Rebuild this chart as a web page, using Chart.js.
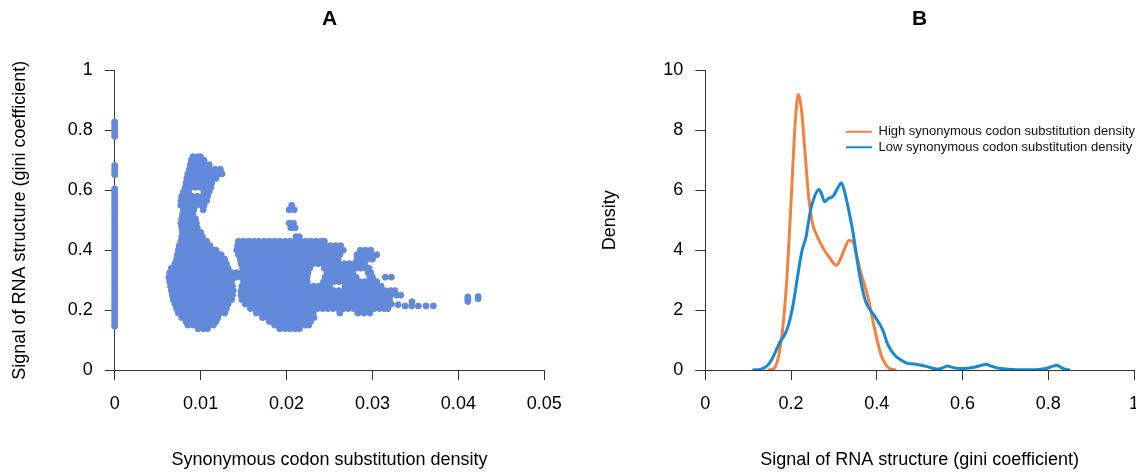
<!DOCTYPE html>
<html><head><meta charset="utf-8">
<script src="https://cdn.jsdelivr.net/npm/chart.js@4.4.1/dist/chart.umd.min.js"></script>
<style>
html,body{margin:0;padding:0;background:#fff;overflow:hidden;width:1136px;height:472px;}
#wrap{position:relative;width:1136px;height:472px;overflow:hidden;background:#fff;}
canvas{position:absolute;top:0;}
#cA{left:0;} #cB{left:568px;}
</style></head><body>
<div id="wrap"><canvas id="cA" width="576" height="472"></canvas><canvas id="cB" width="586" height="472"></canvas></div>
<script>
// ---------- Panel A: tick values / labels ----------
const xTicksA = [0, 0.01, 0.02, 0.03, 0.04, 0.05];
const xTickLabelsA = ['0', '0.01', '0.02', '0.03', '0.04', '0.05'];
const yTicksA = [0, 0.2, 0.4, 0.6, 0.8, 1];
const yTickLabelsA = ['0', '0.2', '0.4', '0.6', '0.8', '1'];

// ---------- Panel B: tick values / labels ----------
const xTicksB = [0, 0.2, 0.4, 0.6, 0.8, 1];
const xTickLabelsB = ['0', '0.2', '0.4', '0.6', '0.8', '1'];
const yTicksB = [0, 2, 4, 6, 8, 10];
const yTickLabelsB = ['0', '2', '4', '6', '8', '10'];

// ---------- Panel A data ----------
// genes with zero synonymous substitution density (gini values)
const zeroGini = [0.146,0.155,0.165,0.175,0.185,0.195,0.205,0.215,0.225,0.235,0.245,0.255,0.265,0.275,0.285,0.295,
  0.305,0.315,0.325,0.335,0.345,0.355,0.365,0.375,0.385,0.395,0.405,0.415,0.425,0.435,0.445,0.455,0.465,0.475,0.485,
  0.495,0.505,0.515,0.525,0.535,0.545,0.555,0.565,0.575,0.585,0.595,0.605,
  0.652,0.662,0.672,0.683,
  0.78,0.79,0.80,0.81,0.82,0.828];

// dense clouds read row by row: gini value of each row, and substitution densities (x 1e-4) in it
const SYN_UNIT = 1e-4;
const rowGini = [0.138,0.15,0.162,0.175,0.19,0.205,0.22,0.235,0.25,0.265,0.28,0.295,0.31,0.325,0.34,0.355,0.37,0.385,0.40,0.415,
  0.43,0.445,0.46,0.475,0.49,0.505,0.52,0.535,0.55,0.565,0.58,0.595,0.61,0.625,0.64,0.655,0.67,0.685,0.70,0.712];
const rowSyn = [
  [97,103,108,192,198,204,210,215],
  [85,91,97,103,109,115,186,192,198,204,210,216,222,226],
  [83,89,95,101,107,113,118,180,186,192,198,204,210,216,222,228],
  [78,84,90,96,102,108,114,120,172,178,184,190,196,202,208,214,220,226,232],
  [74,80,86,92,98,104,110,116,122,128,165,171,177,183,189,195,201,207,213,219,225,231,262,283,290,297],
  [72,78,84,90,96,102,108,114,120,126,130,158,164,170,176,182,188,194,200,206,212,218,224,230,236,242,248,254,260,266,272,278,284,290,296,302,308,314,318],
  [70,76,82,88,94,100,106,112,118,124,130,132,152,158,164,170,176,182,188,194,200,206,212,218,224,230,236,242,248,254,260,266,272,278,284,290,296,302,308,314,320,322],
  [68,74,80,86,92,98,104,110,116,122,128,134,136,148,154,160,166,172,178,184,190,196,202,208,214,220,226,232,238,244,250,256,262,268,274,280,286,292,298,304,310,316,320],
  [67,73,79,85,91,97,103,109,115,121,127,133,137,147,153,159,165,171,177,183,189,195,201,207,213,219,225,231,237,243,249,255,261,267,273,279,285,291,297,303,309,315,321,328,333],
  [66,72,78,84,90,96,102,108,114,120,126,132,138,147,153,159,165,171,177,183,189,195,201,207,213,219,225,231,237,243,249,255,261,267,273,279,285,291,297,303,309,315,321,326],
  [65,71,77,83,89,95,101,107,113,119,125,131,137,148,154,160,166,172,178,184,190,196,202,208,214,220,226,232,238,244,250,268,274,280,286,292,298,304,310],
  [64,70,76,82,88,94,100,106,112,118,124,130,136,150,156,162,168,174,180,186,192,198,204,210,216,222,224,243,249,255,261,267,273,279,285,291,297,303,305],
  [63,69,75,81,87,93,99,105,111,117,123,129,135,141,147,150,156,162,168,174,180,186,192,198,204,210,216,222,224,245,251,257,263,269,275,281,297,300,315,322],
  [64,70,76,82,88,94,100,106,112,118,124,130,136,142,148,150,156,162,168,174,180,186,192,198,204,210,216,222,225,247,253,259,265,271,277,295,298],
  [66,72,78,84,90,96,102,108,114,120,126,132,149,155,161,167,173,179,185,191,197,203,209,215,221,227,244,250,256,262,268,274,280,286,292,296],
  [70,76,82,88,94,100,106,112,118,124,130,147,153,159,165,171,177,183,189,195,201,207,213,219,225,231,237,243,249,255,261,267,273,279,285,291],
  [72,78,84,90,96,102,108,114,120,126,128,146,152,158,164,170,176,182,188,194,200,206,212,218,224,230,236,242,248,254,260,282,288,294,300],
  [73,79,85,91,97,103,109,115,121,124,144,150,156,162,168,174,180,186,192,198,204,210,216,222,228,234,240,246,252,258,262,282,288,294,300,305],
  [74,80,86,92,98,104,110,116,118,142,148,154,160,166,172,178,184,190,196,202,208,214,220,226,232,238,244,250,256,262,266,286,292,298],
  [75,81,87,93,99,105,111,143,149,155,161,167,173,179,185,191,197,203,209,215,221,227,233,239,245,251,257,263],
  [77,83,89,95,101,107,144,150,156,162,168,174,180,186,192,198,204,210,216,222,228,234,240,244],
  [78,84,90,96,102,211,215],
  [79,85,91,97,100],
  [78,84,90,96,205,210],
  [77,83,89,95,203,208],
  [78,84,90,94],
  [79,85,91],
  [80,86,92,103,203,209],
  [77,83,89,95,101,104,206],
  [77,83,89,95,101,107],
  [78,84,90,96,102,108],
  [80,86,104,110],
  [82,88,94,100,106,112],
  [83,89,95,101,107,113],
  [84,90,96,102,108,114,118],
  [85,91,97,103,109,115,121,125],
  [87,93,99,105,111,117,123],
  [88,94,100,106,110],
  [89,95,101,104],
  [91,97,100]
];
// isolated points on the right
const sparseSyn  = [0.0330,0.0338,0.03457,0.03534,0.03623,0.03708,0.0346,0.0411,0.0411,0.0411,0.0423,0.0423];
const sparseGini = [0.218,0.214,0.214,0.214,0.214,0.214,0.228,0.229,0.236,0.244,0.238,0.245];

// ---------- Panel B data (density curves) ----------
const highGini = [0.145,0.16,0.17,0.18,0.19,0.20,0.21,0.217,0.225,0.233,0.241,0.25,0.26,0.27,0.28,0.29,0.30,0.306,
  0.315,0.325,0.335,0.343,0.352,0.36,0.37,0.38,0.39,0.40,0.41,0.42,0.43,0.445];
const highDensity = [0,0.05,0.4,1.3,3.0,5.6,8.3,9.2,8.6,7.2,5.8,4.9,4.5,4.2,3.95,3.75,3.55,3.5,
  3.7,4.05,4.32,4.3,3.9,3.4,2.9,2.4,1.7,1.05,0.5,0.2,0.05,0];
const lowGini = [0.11,0.13,0.145,0.155,0.165,0.175,0.185,0.195,0.205,0.215,0.225,0.235,0.245,0.255,0.265,0.272,0.278,
  0.287,0.298,0.31,0.317,0.325,0.335,0.345,0.355,0.365,0.375,0.385,0.395,0.405,0.415,0.425,0.435,0.445,0.458,0.472,
  0.485,0.5,0.515,0.53,0.545,0.555,0.565,0.578,0.595,0.61,0.63,0.645,0.655,0.665,0.68,0.70,0.73,0.77,0.795,0.81,
  0.82,0.83,0.84,0.851];
const lowDensity = [0,0.03,0.15,0.35,0.65,0.95,1.17,1.55,2.2,3.1,3.95,4.45,5.3,5.8,6.03,5.85,5.62,
  5.73,5.8,6.1,6.25,5.95,5.3,4.56,3.6,2.8,2.25,2.0,1.8,1.57,1.3,0.87,0.62,0.45,0.32,0.22,
  0.2,0.17,0.12,0.06,0.03,0.08,0.13,0.08,0.05,0.06,0.1,0.16,0.19,0.14,0.07,0.03,0.01,0.01,0.05,0.12,
  0.16,0.08,0.02,0];

// ---------- styling ----------
const SCATTER_COLOR = '#6389DB';
const HIGH_COLOR = '#F4813F';
const LOW_COLOR = '#1789D3';
Chart.defaults.font.family = "'Liberation Sans', Arial, Helvetica, sans-serif";
Chart.defaults.color = '#000';

function rAxis(cfg) {
  return {
    type: 'linear', min: cfg.min, max: cfg.max,
    afterBuildTicks: s => { s.ticks = cfg.ticks.map(v => ({value: v})); },
    ticks: { callback: (v, i) => cfg.labels[i], autoSkip: false, maxRotation: 0, minRotation: 0,
             padding: cfg.pad, color: '#000', font: {size: 18} },
    grid: { display: true, drawOnChartArea: false, drawTicks: true, tickLength: 10, color: '#333', lineWidth: 1 },
    border: { display: true, color: '#333', width: 1 },
    title: { display: true, text: cfg.title, color: '#000', font: {size: 18}, padding: cfg.titlePad },
    afterFit: cfg.fit
  };
}

// ---------- Panel A ----------
const scatterPoints = [];
zeroGini.forEach(g => scatterPoints.push({x: 0, y: g}));
rowGini.forEach((g, i) => rowSyn[i].forEach(s => scatterPoints.push({x: s * SYN_UNIT, y: g})));
sparseSyn.forEach((s, i) => scatterPoints.push({x: s, y: sparseGini[i]}));

new Chart(document.getElementById('cA'), {
  type: 'scatter',
  data: { datasets: [{ data: scatterPoints, backgroundColor: SCATTER_COLOR, borderColor: SCATTER_COLOR,
    pointRadius: 3, pointBorderWidth: 1, pointHoverRadius: 3, clip: false }] },
  options: {
    responsive: false, animation: false, events: [],
    layout: { padding: { left: 0, right: 31.7, top: 0, bottom: 0 } },
    plugins: {
      legend: { display: false }, tooltip: { enabled: false },
      title: { display: true, text: 'A', fullSize: false, color: '#000',
               font: { size: 21, weight: 'bold' }, padding: { top: 6.9, bottom: 38.4 } }
    },
    scales: {
      x: rAxis({ min: 0, max: 0.05, ticks: xTicksA, labels: xTickLabelsA, pad: 13,
                 title: 'Synonymous codon substitution density', titlePad: {top: 0, bottom: 1.5},
                 fit: s => { s.height = 102; } }),
      y: rAxis({ min: 0, max: 1, ticks: yTicksA, labels: yTickLabelsA, pad: 12,
                 title: 'Signal of RNA structure (gini coefficient)', titlePad: {top: 9.5, bottom: 0},
                 fit: s => { s.width = 114.7; } })
    }
  }
});

// ---------- Panel B ----------
const legendSpot = {
  id: 'legendSpot',
  beforeDraw(chart) {
    const lg = chart.legend; if (!lg) return;
    const pad = lg.options.labels.padding;
    lg.left = 278 - pad; lg.top = 125.2 - pad;
    lg.width = 300; lg.height = 60;
    lg.right = lg.left + lg.width; lg.bottom = lg.top + lg.height;
  }
};

new Chart(document.getElementById('cB'), {
  type: 'line',
  data: { datasets: [
    { label: 'High synonymous codon substitution density', data: highGini.map((g, i) => ({x: g, y: highDensity[i]})),
      borderColor: HIGH_COLOR, backgroundColor: HIGH_COLOR, borderWidth: 3, pointRadius: 0, fill: false,
      cubicInterpolationMode: 'monotone', order: 1 },
    { label: 'Low synonymous codon substitution density', data: lowGini.map((g, i) => ({x: g, y: lowDensity[i]})),
      borderColor: LOW_COLOR, backgroundColor: LOW_COLOR, borderWidth: 3, pointRadius: 0, fill: false,
      cubicInterpolationMode: 'monotone', order: 0 }
  ] },
  options: {
    responsive: false, animation: false, events: [],
    layout: { padding: { left: 0, right: 20, top: 0, bottom: 0 } },
    plugins: {
      tooltip: { enabled: false },
      title: { display: true, text: 'B', fullSize: false, color: '#000',
               font: { size: 21, weight: 'bold' }, padding: { top: 6.9, bottom: 38.4 } },
      legend: { display: true, position: 'chartArea', align: 'start',
        labels: { usePointStyle: true, pointStyle: 'line', pointStyleWidth: 26, padding: 2.6,
          color: '#111', font: { size: 13 },
          sort: (a, b) => a.datasetIndex - b.datasetIndex,
          generateLabels: (chart) => Chart.defaults.plugins.legend.labels.generateLabels(chart)
            .map(it => Object.assign(it, { lineWidth: 2 })) } }
    },
    scales: {
      x: rAxis({ min: 0, max: 1, ticks: xTicksB, labels: xTickLabelsB, pad: 13,
                 title: 'Signal of RNA structure (gini coefficient)', titlePad: {top: 0, bottom: 1.5},
                 fit: s => { s.height = 102; } }),
      y: rAxis({ min: 0, max: 10, ticks: yTicksB, labels: yTickLabelsB, pad: 12,
                 title: 'Density', titlePad: {top: 31.3, bottom: 0},
                 fit: s => { s.width = 137.3; } })
    }
  },
  plugins: [legendSpot]
});
</script>
</body></html>
